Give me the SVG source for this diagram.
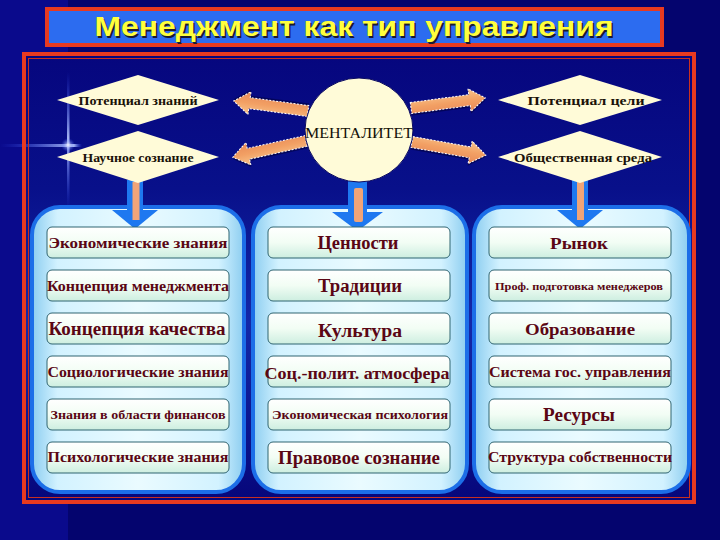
<svg xmlns="http://www.w3.org/2000/svg" width="720" height="540" viewBox="0 0 720 540">
<defs>
  <linearGradient id="bgFrame" x1="0" y1="0" x2="0" y2="1">
    <stop offset="0" stop-color="#06067e"/>
    <stop offset="0.3" stop-color="#08108a"/>
    <stop offset="0.6" stop-color="#1428a8"/>
    <stop offset="1" stop-color="#06067a"/>
  </linearGradient>
  <linearGradient id="panelFill" x1="0" y1="0" x2="1" y2="0">
    <stop offset="0" stop-color="#8ccdf0"/>
    <stop offset="0.12" stop-color="#d2f2ff"/>
    <stop offset="0.5" stop-color="#eafbff"/>
    <stop offset="0.88" stop-color="#d2f2ff"/>
    <stop offset="1" stop-color="#8ccdf0"/>
  </linearGradient>
  <linearGradient id="boxFill" x1="0" y1="0" x2="0" y2="1">
    <stop offset="0" stop-color="#ffffff"/>
    <stop offset="0.5" stop-color="#f2fdf4"/>
    <stop offset="1" stop-color="#cdeee0"/>
  </linearGradient>
  <linearGradient id="arrowFill" x1="0" y1="0" x2="0" y2="1">
    <stop offset="0" stop-color="#f8c48c"/>
    <stop offset="0.5" stop-color="#f2a064"/>
    <stop offset="1" stop-color="#e88a58"/>
  </linearGradient>
  <radialGradient id="flare" cx="0.5" cy="0.5" r="0.5">
    <stop offset="0" stop-color="#ffffff" stop-opacity="0.9"/>
    <stop offset="1" stop-color="#4060ff" stop-opacity="0"/>
  </radialGradient>
  <linearGradient id="flareH" x1="0" y1="0" x2="1" y2="0">
    <stop offset="0" stop-color="#3050ff" stop-opacity="0"/>
    <stop offset="0.9" stop-color="#c0d0ff" stop-opacity="0.9"/>
    <stop offset="1" stop-color="#3050ff" stop-opacity="0"/>
  </linearGradient>
  <linearGradient id="flareV" x1="0" y1="0" x2="0" y2="1">
    <stop offset="0" stop-color="#3050ff" stop-opacity="0"/>
    <stop offset="0.5" stop-color="#c0d0ff" stop-opacity="0.9"/>
    <stop offset="1" stop-color="#3050ff" stop-opacity="0"/>
  </linearGradient>
  <path id="sideArrow" d="M0,-5.5 L59,-5.5 L59,-11.5 L75,0 L59,11.5 L59,5.5 L0,5.5 Z"/>
</defs>
<style>
  .diamond { fill: #fffbd8; }
  .dlabel { font-family: "Liberation Serif", "Times New Roman", serif; font-weight: bold; font-size: 13px; fill: #1a1208; text-anchor: middle; dominant-baseline: central; }
  .panel { fill: url(#panelFill); stroke: #1c6ee8; stroke-width: 4; }
  .box { fill: url(#boxFill); stroke: #2f6470; stroke-width: 1; }
  .blabel { font-family: "Liberation Serif", "Times New Roman", serif; font-weight: bold; fill: #5a0614; text-anchor: middle; dominant-baseline: central; }
  .side { fill: url(#arrowFill); stroke: #ffffff; stroke-width: 1; stroke-dasharray: 2 1.5; }
  .sideShadow { fill: #000040; opacity: 0.6; }
  .shaft { fill: #1e78f0; }
  .core { fill: #f0a478; }
</style>

<!-- background -->
<rect x="0" y="0" width="720" height="540" fill="#04046e"/>
<rect x="0" y="0" width="68" height="540" fill="#0a0a8c"/>
<rect x="24" y="54" width="670" height="448" fill="url(#bgFrame)"/>

<!-- lens flare -->
<g id="flare-glint">
  <rect x="0" y="144" width="82" height="3" fill="url(#flareH)"/>
  <rect x="67" y="72" width="2.5" height="136" fill="url(#flareV)"/>
  <circle cx="68" cy="145" r="7" fill="url(#flare)"/>
</g>

<!-- title -->
<g id="title">
  <rect x="47" y="9" width="615" height="36" fill="#2c6cf0" stroke="#e83a20" stroke-width="4"/>
  <text x="355.5" y="37.5" text-anchor="middle" font-family="Liberation Sans, Arial, sans-serif" font-weight="bold" font-size="28" fill="#1a1a30" textLength="519" lengthAdjust="spacingAndGlyphs">Менеджмент как тип управления</text>
  <text x="354" y="36" text-anchor="middle" font-family="Liberation Sans, Arial, sans-serif" font-weight="bold" font-size="28" fill="#ffff3c" textLength="519" lengthAdjust="spacingAndGlyphs">Менеджмент как тип управления</text>
</g>

<!-- main frame -->
<g id="frame">
  <rect x="24" y="54" width="670" height="448" fill="none" stroke="#e83a20" stroke-width="4"/>
  <rect x="28.5" y="58.5" width="661" height="439" fill="none" stroke="#c83020" stroke-width="1"/>
</g>

<!-- panels -->
<g id="panel-left"><rect class="panel" x="32" y="207" width="212" height="285" rx="28"/></g>
<g id="panel-middle"><rect class="panel" x="253" y="207" width="214" height="285" rx="28"/></g>
<g id="panel-right"><rect class="panel" x="474" y="207" width="215" height="285" rx="28"/></g>

<!-- connectors -->
<g id="connectors">
  <g transform="translate(308,111) rotate(187.7)">
    <use href="#sideArrow" class="sideShadow" transform="translate(0,2)"/>
    <use href="#sideArrow" class="side"/>
  </g>
  <g transform="translate(306,141) rotate(167.5)">
    <use href="#sideArrow" class="sideShadow" transform="translate(0,-2)"/>
    <use href="#sideArrow" class="side"/>
  </g>
  <g transform="translate(411,108) rotate(-7.7)">
    <use href="#sideArrow" class="sideShadow" transform="translate(0,2)"/>
    <use href="#sideArrow" class="side"/>
  </g>
  <g transform="translate(412,142) rotate(10.1)">
    <use href="#sideArrow" class="sideShadow" transform="translate(0,2)"/>
    <use href="#sideArrow" class="side"/>
  </g>
  <!-- down arrows -->
  <g id="down-left">
    <rect class="shaft" x="127" y="180" width="16" height="32"/>
    <polygon class="shaft" points="112,210 158,210 135,229"/>
    <rect class="core" x="132.5" y="182" width="7" height="38"/>
  </g>
  <g id="down-middle">
    <rect class="shaft" x="348" y="178" width="19" height="36"/>
    <polygon class="shaft" points="332,212 383,212 357.5,231"/>
    <rect class="core" x="354" y="188" width="9" height="34" rx="2"/>
  </g>
  <g id="down-right">
    <rect class="shaft" x="572" y="180" width="16" height="32"/>
    <polygon class="shaft" points="557,210 603,210 580,229"/>
    <rect class="core" x="577" y="182" width="7" height="38"/>
  </g>
</g>

<!-- diamonds -->
<g id="d-potential-knowledge">
  <polygon class="diamond" points="57,100 138,75 219,100 138,125"/>
  <text class="dlabel" x="138" y="100" textLength="119" lengthAdjust="spacingAndGlyphs">Потенциал знаний</text>
</g>
<g id="d-scientific">
  <polygon class="diamond" points="57,157 138,131 219,157 138,183"/>
  <text class="dlabel" x="138" y="157" textLength="111" lengthAdjust="spacingAndGlyphs">Научное сознание</text>
</g>
<g id="d-potential-goal">
  <polygon class="diamond" points="498,100 580,75 662,100 580,125"/>
  <text class="dlabel" x="586" y="100" textLength="117" lengthAdjust="spacingAndGlyphs">Потенциал цели</text>
</g>
<g id="d-social">
  <polygon class="diamond" points="498,157 580,131 662,157 580,183"/>
  <text class="dlabel" x="583" y="157" textLength="138" lengthAdjust="spacingAndGlyphs">Общественная среда</text>
</g>

<!-- mentality -->
<g id="mentality">
  <ellipse cx="359" cy="130" rx="54" ry="52" fill="#fffbd8" stroke="#0a0a60" stroke-width="1"/>
  <text x="359" y="133" text-anchor="middle" dominant-baseline="central" font-family="Liberation Serif, Times New Roman, serif" font-size="14" fill="#141008" textLength="108" lengthAdjust="spacingAndGlyphs">МЕНТАЛИТЕТ</text>
</g>

<!-- left column -->
<g id="l1"><rect class="box" x="47" y="227" width="182" height="31" rx="5"/><text class="blabel" x="138" y="243" font-size="15" textLength="179" lengthAdjust="spacingAndGlyphs">Экономические знания</text></g>
<g id="l2"><rect class="box" x="47" y="270" width="182" height="31" rx="5"/><text class="blabel" x="138" y="286" font-size="14" textLength="182" lengthAdjust="spacingAndGlyphs">Концепция менеджмента</text></g>
<g id="l3"><rect class="box" x="47" y="313" width="182" height="31" rx="5"/><text class="blabel" x="137" y="329" font-size="18" textLength="177" lengthAdjust="spacingAndGlyphs">Концепция качества</text></g>
<g id="l4"><rect class="box" x="47" y="356" width="182" height="31" rx="5"/><text class="blabel" x="138" y="372" font-size="15" textLength="181" lengthAdjust="spacingAndGlyphs">Социологические знания</text></g>
<g id="l5"><rect class="box" x="47" y="399" width="182" height="31" rx="5"/><text class="blabel" x="138" y="414" font-size="13" textLength="175" lengthAdjust="spacingAndGlyphs">Знания в области финансов</text></g>
<g id="l6"><rect class="box" x="47" y="442" width="182" height="31" rx="5"/><text class="blabel" x="138" y="457" font-size="14" textLength="181" lengthAdjust="spacingAndGlyphs">Психологические знания</text></g>

<!-- middle column -->
<g id="m1"><rect class="box" x="268" y="227" width="182" height="31" rx="5"/><text class="blabel" x="358" y="243" font-size="18" textLength="81" lengthAdjust="spacingAndGlyphs">Ценности</text></g>
<g id="m2"><rect class="box" x="268" y="270" width="182" height="31" rx="5"/><text class="blabel" x="360" y="286" font-size="18" textLength="84" lengthAdjust="spacingAndGlyphs">Традиции</text></g>
<g id="m3"><rect class="box" x="268" y="313" width="182" height="31" rx="5"/><text class="blabel" x="360" y="331" font-size="18" textLength="84" lengthAdjust="spacingAndGlyphs">Культура</text></g>
<g id="m4"><rect class="box" x="268" y="356" width="182" height="31" rx="5"/><text class="blabel" x="357" y="373" font-size="16" textLength="185" lengthAdjust="spacingAndGlyphs">Соц.-полит. атмосфера</text></g>
<g id="m5"><rect class="box" x="268" y="399" width="182" height="31" rx="5"/><text class="blabel" x="360" y="415" font-size="12" textLength="176" lengthAdjust="spacingAndGlyphs">Экономическая психология</text></g>
<g id="m6"><rect class="box" x="268" y="442" width="182" height="31" rx="5"/><text class="blabel" x="359" y="458" font-size="18" textLength="162" lengthAdjust="spacingAndGlyphs">Правовое сознание</text></g>

<!-- right column -->
<g id="r1"><rect class="box" x="489" y="227" width="182" height="31" rx="5"/><text class="blabel" x="579" y="243" font-size="17" textLength="58" lengthAdjust="spacingAndGlyphs">Рынок</text></g>
<g id="r2"><rect class="box" x="489" y="270" width="182" height="31" rx="5"/><text class="blabel" x="579" y="286" font-size="11" textLength="168" lengthAdjust="spacingAndGlyphs">Проф. подготовка менеджеров</text></g>
<g id="r3"><rect class="box" x="489" y="313" width="182" height="31" rx="5"/><text class="blabel" x="580" y="329" font-size="17" textLength="110" lengthAdjust="spacingAndGlyphs">Образование</text></g>
<g id="r4"><rect class="box" x="489" y="356" width="182" height="31" rx="5"/><text class="blabel" x="580" y="372" font-size="15" textLength="182" lengthAdjust="spacingAndGlyphs">Система гос. управления</text></g>
<g id="r5"><rect class="box" x="489" y="399" width="182" height="31" rx="5"/><text class="blabel" x="579" y="415" font-size="18" textLength="72" lengthAdjust="spacingAndGlyphs">Ресурсы</text></g>
<g id="r6"><rect class="box" x="489" y="442" width="182" height="31" rx="5"/><text class="blabel" x="580" y="457" font-size="15" textLength="184" lengthAdjust="spacingAndGlyphs">Структура собственности</text></g>
</svg>
